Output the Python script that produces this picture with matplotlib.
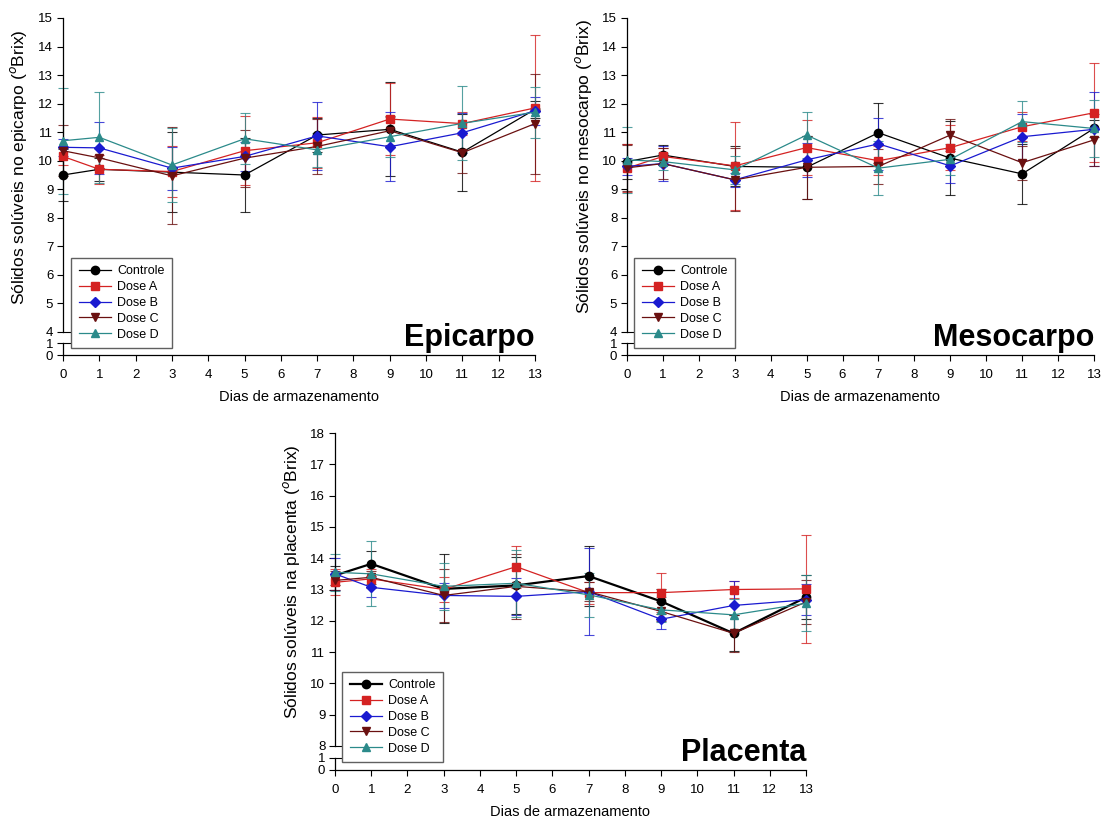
import matplotlib.pyplot as plt

LARGURA, ALTURA = 1106, 825

dias = [0, 1, 3, 5, 7, 9, 11, 13]
tratamentos = ["Controle", "Dose A", "Dose B", "Dose C", "Dose D"]
cores = ["#000000", "#d42222", "#1a1ad0", "#6a1010", "#2b8a8a"]
marcadores = ["o", "s", "D", "v", "^"]
tam_marcador = [6, 6, 5, 6, 6]

# Epicarpo: médias (°Brix)
epi_controle = [9.5, 9.7, 9.6, 9.5, 10.9, 11.1, 10.3, 11.8]
epi_dose_a = [10.15, 9.7, 9.62, 10.35, 10.63, 11.46, 11.3, 11.85]
epi_dose_b = [10.47, 10.45, 9.74, 10.15, 10.87, 10.49, 10.98, 11.75]
epi_dose_c = [10.35, 10.1, 9.47, 10.09, 10.5, 11.05, 10.28, 11.3]
epi_dose_d = [10.7, 10.82, 9.85, 10.77, 10.38, 10.84, 11.31, 11.7]
# Epicarpo: desvios
epi_controle_dp = [0.9, 0.4, 1.4, 1.3, 0.6, 1.65, 1.35, 0.3]
epi_dose_a_dp = [0.3, 0.5, 0.9, 1.2, 0.9, 1.25, 0.4, 2.55]
epi_dose_b_dp = [0.3, 0.9, 0.75, 0.5, 1.2, 1.2, 0.7, 0.5]
epi_dose_c_dp = [0.9, 0.35, 1.7, 1.0, 0.95, 0.5, 0.7, 1.75]
epi_dose_d_dp = [1.85, 1.6, 1.3, 0.9, 0.6, 0.7, 1.3, 0.9]

# Mesocarpo: médias (°Brix)
meso_controle = [9.97, 10.2, 9.8, 9.77, 10.98, 10.09, 9.54, 11.13]
meso_dose_a = [9.74, 10.15, 9.82, 10.46, 10.0, 10.46, 11.19, 11.68]
meso_dose_b = [9.8, 9.9, 9.33, 10.03, 10.59, 9.82, 10.84, 11.1]
meso_dose_c = [9.75, 9.9, 9.33, 9.77, 9.8, 10.9, 9.93, 10.73]
meso_dose_d = [10.03, 9.97, 9.68, 10.9, 9.74, 10.05, 11.37, 11.13]
# Mesocarpo: desvios
meso_controle_dp = [0.6, 0.35, 0.7, 1.1, 1.05, 1.3, 1.05, 0.3]
meso_dose_a_dp = [0.85, 0.3, 1.55, 0.95, 0.5, 0.8, 0.5, 1.73]
meso_dose_b_dp = [0.3, 0.6, 0.25, 0.6, 0.9, 0.6, 0.8, 1.3]
meso_dose_c_dp = [0.8, 0.55, 1.1, 1.1, 0.6, 0.55, 0.6, 0.9]
meso_dose_d_dp = [1.15, 0.3, 0.5, 0.8, 0.95, 0.55, 0.73, 1.0]

# Placenta: médias (°Brix)
plac_controle = [13.45, 13.82, 13.02, 13.13, 13.43, 12.62, 11.6, 12.75]
plac_dose_a = [13.23, 13.34, 13.0, 13.73, 12.9, 12.9, 13.0, 13.02]
plac_dose_b = [13.5, 13.07, 12.81, 12.78, 12.93, 12.05, 12.49, 12.67]
plac_dose_c = [13.29, 13.39, 12.81, 13.1, 12.93, 12.3, 11.6, 12.6]
plac_dose_d = [13.55, 13.5, 13.1, 13.2, 12.83, 12.35, 12.19, 12.56]
# Placenta: desvios
plac_controle_dp = [0.3, 0.4, 1.1, 0.9, 0.96, 0.4, 0.58, 0.7]
plac_dose_a_dp = [0.42, 0.3, 0.4, 0.67, 0.35, 0.62, 0.26, 1.72]
plac_dose_b_dp = [0.5, 0.32, 0.4, 0.6, 1.38, 0.3, 0.78, 0.5]
plac_dose_c_dp = [0.3, 0.2, 0.85, 1.04, 0.3, 0.3, 0.6, 0.7]
plac_dose_d_dp = [0.59, 1.04, 0.75, 1.07, 0.7, 0.4, 0.5, 0.89]

plt.rcParams['font.family'] = ['Liberation Sans', 'DejaVu Sans']
plt.rcParams['axes.linewidth'] = 0.9

fig = plt.figure(figsize=(LARGURA / 100, ALTURA / 100), dpi=100)


def fx(x):
    return x / LARGURA


def fy(y):
    return 1 - y / ALTURA


def painel(x0, x13, y_topo, y_quebra, y_um, y_zero, y_min, y_max,
           medias, desvios, rotulo_y, y_rotulo, titulo, x_leg, y_leg, lw_controle=0.9):
    larg = fx(x13) - fx(x0)
    # eixo principal (acima da quebra) e trecho 0-1 abaixo dela
    ax = fig.add_axes([fx(x0), fy(y_quebra), larg, fy(y_topo) - fy(y_quebra)])
    ax_b = fig.add_axes([fx(x0), fy(y_zero), larg, fy(y_um) - fy(y_zero)])
    ax_b.patch.set_visible(False)

    for a in (ax, ax_b):
        a.set_xlim(0, 13)
        a.spines['top'].set_visible(False)
        a.spines['right'].set_visible(False)
        a.tick_params(direction='out', length=4, width=0.8, labelsize=9.5, pad=3)
    ax.spines['bottom'].set_visible(False)
    ax.tick_params(axis='x', bottom=False, labelbottom=False)
    ax.set_ylim(y_min, y_max)
    ax.set_yticks(range(y_min, y_max + 1))
    ax_b.set_ylim(0, 1)
    ax_b.set_yticks([0, 1])
    ax_b.set_xticks(range(0, 14))
    ax_b.tick_params(axis='x', pad=6)

    # marcas da quebra do eixo y
    d = 7 / (x13 - x0)
    ax.plot([0, d], [0, 0], transform=ax.transAxes, color='black', lw=0.8, clip_on=False)
    ax_b.plot([0, d], [1, 1], transform=ax_b.transAxes, color='black', lw=0.8, clip_on=False)

    linhas = []
    for i, (nome, cor, mk, ms, m, dp) in enumerate(zip(tratamentos, cores, marcadores,
                                                      tam_marcador, medias, desvios)):
        ax.errorbar(dias, m, yerr=dp, fmt='none', ecolor=cor, elinewidth=0.8,
                    capsize=3.6, capthick=0.8, alpha=0.8, clip_on=False, zorder=2)
        lw = lw_controle if i == 0 else 0.9
        ln, = ax.plot(dias, m, color=cor, lw=lw, marker=mk, ms=ms, mec=cor,
                      label=nome, clip_on=False, zorder=3)
        linhas.append(ln)

    fig.text(fx(x0 - 44), fy(y_rotulo), rotulo_y, rotation=90, ha='center', va='center', fontsize=12.5)
    fig.text((fx(x0) + fx(x13)) / 2, fy(y_zero + 42), "Dias de armazenamento",
             ha='center', va='center', fontsize=10.5)
    fig.text(fx(x13), fy(y_zero - 9), titulo, ha='right', va='baseline',
             fontsize=22, fontweight='bold')

    fig.legend(handles=linhas, labels=tratamentos, loc='lower left',
               bbox_to_anchor=(fx(x_leg), fy(y_leg)), bbox_transform=fig.transFigure,
               frameon=True, fancybox=False, edgecolor='#606060', framealpha=1,
               fontsize=9, handlelength=2.6, handletextpad=0.5, labelspacing=0.3,
               borderpad=0.6, borderaxespad=0)


painel(63, 535, 18, 332, 343, 355, 4, 15,
       [epi_controle, epi_dose_a, epi_dose_b, epi_dose_c, epi_dose_d],
       [epi_controle_dp, epi_dose_a_dp, epi_dose_b_dp, epi_dose_c_dp, epi_dose_d_dp],
       "Sólidos solúveis no epicarpo ($^{o}$Brix)", 167, "Epicarpo", 71, 348)

painel(627, 1094, 18, 332, 343, 355, 4, 15,
       [meso_controle, meso_dose_a, meso_dose_b, meso_dose_c, meso_dose_d],
       [meso_controle_dp, meso_dose_a_dp, meso_dose_b_dp, meso_dose_c_dp, meso_dose_d_dp],
       "Sólidos solúveis no mesocarpo ($^{o}$Brix)", 167, "Mesocarpo", 634, 348)

painel(335, 806, 433, 746, 758, 770, 8, 18,
       [plac_controle, plac_dose_a, plac_dose_b, plac_dose_c, plac_dose_d],
       [plac_controle_dp, plac_dose_a_dp, plac_dose_b_dp, plac_dose_c_dp, plac_dose_d_dp],
       "Sólidos solúveis na placenta ($^{o}$Brix)", 582, "Placenta", 342, 762,
       lw_controle=1.6)

fig.savefig("out.png", dpi=100)
